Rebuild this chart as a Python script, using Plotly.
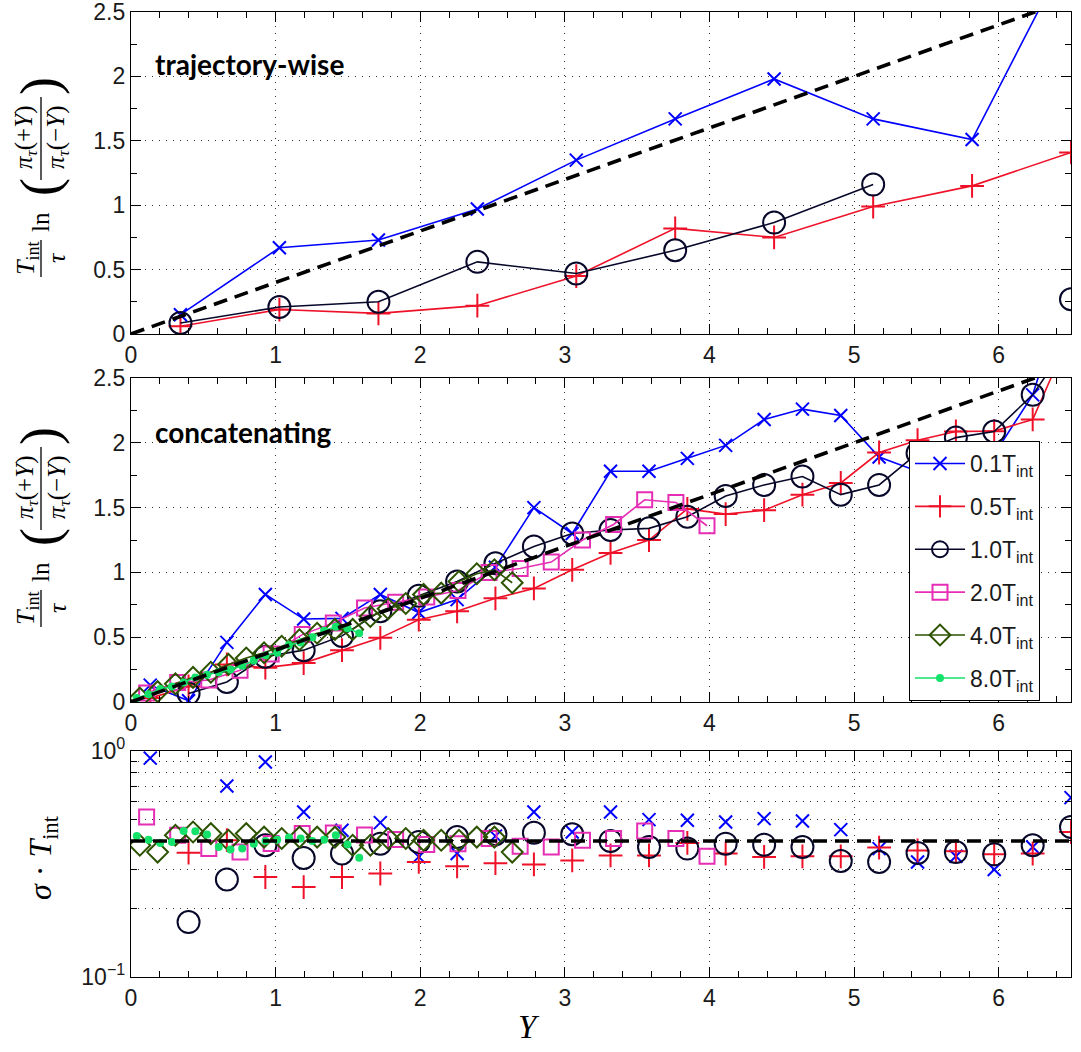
import plotly.graph_objects as go

# ---------------- data ----------------
series_names = ["0.1T<sub>int</sub>", "0.5T<sub>int</sub>", "1.0T<sub>int</sub>",
                "2.0T<sub>int</sub>", "4.0T<sub>int</sub>", "8.0T<sub>int</sub>"]

# top panel: trajectory-wise
x_top = [0.342, 1.026, 1.711, 2.395, 3.079, 3.763, 4.447, 5.132, 5.816, 6.500]
top_blue = [0.15, 0.67, 0.73, 0.97, 1.35, 1.67, 1.98, 1.67, 1.51, 3.0]
top_red = [0.06, 0.19, 0.16, 0.22, 0.45, 0.82, 0.75, 0.99, 1.15, 1.41]
top_black = [0.085, 0.21, 0.25, 0.56, 0.47, 0.65, 0.865, 1.16, None, 0.27]

# middle / bottom panels: concatenating
x_25 = [0.133, 0.398, 0.663, 0.929, 1.194, 1.459, 1.724, 1.990, 2.255, 2.520,
        2.786, 3.051, 3.316, 3.582, 3.847, 4.112, 4.378, 4.643, 4.908, 5.173,
        5.439, 5.704, 5.969, 6.235, 6.500]
x_19 = [0.108, 0.323, 0.538, 0.754, 0.969, 1.184, 1.399, 1.615, 1.830, 2.045,
        2.261, 2.476, 2.691, 2.906, 3.122, 3.337, 3.552, 3.768, 3.983]
x_22 = [0.061, 0.184, 0.307, 0.429, 0.552, 0.674, 0.797, 0.920, 1.042, 1.165,
        1.287, 1.410, 1.533, 1.655, 1.778, 1.900, 2.023, 2.145, 2.268, 2.391,
        2.513, 2.636]
x_20 = [0.040, 0.121, 0.202, 0.283, 0.364, 0.445, 0.526, 0.607, 0.688, 0.769,
        0.849, 0.930, 1.011, 1.092, 1.173, 1.254, 1.335, 1.416, 1.497, 1.578]

mid_blue = [0.13, 0.01, 0.46, 0.83, 0.64, 0.645, 0.83, 0.69, 0.79, 1.04,
            1.50, 1.30, 1.78, 1.78, 1.88, 1.98, 2.18, 2.26, 2.21, 1.89,
            1.78, 1.75, 1.91, 2.37, 3.3]
mid_red = [0.03, 0.12, 0.29, 0.265, 0.30, 0.40, 0.495, 0.635, 0.70, 0.80,
           0.876, 1.02, 1.15, 1.25, 1.49, 1.45, 1.48, 1.60, 1.69, 1.925,
           2.02, 2.087, 2.09, 2.18, 2.85]
mid_black = [None, 0.065, 0.155, 0.35, 0.40, 0.51, 0.70, 0.82, 0.93, 1.07,
             1.20, 1.30, 1.327, 1.34, 1.43, 1.59, 1.675, 1.74, 1.60, 1.675,
             1.92, 2.04, 2.087, 2.37, 2.8]
mid_pink = [0.07, 0.15, 0.17, 0.245, 0.37, 0.52, 0.61, 0.725, 0.77, 0.81,
            0.86, 1.00, 1.03, 1.08, 1.25, 1.37, 1.56, 1.54, 1.36]
mid_diamond = [0.03, 0.08, 0.14, 0.19, 0.23, 0.29, 0.34, 0.38, 0.43, 0.48,
               0.53, 0.56, 0.56, 0.66, 0.72, 0.76, 0.83, 0.84, 0.93, 0.99,
               1.02, 0.92]
mid_green = [0.03, 0.06, 0.10, 0.12, 0.15, 0.19, 0.21, 0.23, 0.25, 0.28,
             0.32, 0.36, 0.38, 0.44, 0.46, 0.50, 0.55, 0.58, 0.57, 0.53]

bot_blue = [0.93, None, 0.70, 0.894, 0.537, 0.446, 0.482, 0.34, 0.352, 0.42,
            0.537, 0.438, 0.537, 0.497, 0.494, 0.485, 0.502, 0.49, 0.449, 0.37,
            0.323, 0.342, 0.299, 0.376, 0.622]
bot_red = [None, 0.355, 0.403, 0.277, 0.25, 0.277, 0.287, 0.323, 0.309, 0.319,
           0.315, 0.328, 0.345, 0.345, 0.392, 0.352, 0.34, 0.342, 0.342, 0.374,
           0.363, 0.36, 0.349, 0.352, 0.438]
bot_black = [None, 0.175, 0.27, 0.383, 0.336, 0.352, 0.389, 0.396, 0.416, 0.428,
             0.435, 0.428, 0.40, 0.376, 0.37, 0.389, 0.385, 0.376, 0.326, 0.323,
             0.354, 0.357, 0.349, 0.383, 0.461]
bot_pink = [0.51, 0.424, 0.37, 0.357, 0.39, 0.431, 0.434, 0.425, 0.406, 0.386,
            0.389, 0.41, 0.379, 0.376, 0.403, 0.41, 0.443, 0.41, 0.342]
bot_diamond = [0.383, 0.357, 0.424, 0.438, 0.431, 0.403, 0.431, 0.416, 0.41, 0.416,
               0.416, 0.416, 0.383, 0.383, 0.41, 0.41, 0.403, 0.403, 0.403, 0.416,
               0.416, 0.357]
bot_green = [0.421, 0.405, 0.392, 0.396, 0.443, 0.441, 0.427, 0.376, 0.367, 0.37,
             0.389, 0.40, 0.405, 0.414, 0.41, 0.40, 0.405, 0.424, 0.386, 0.337]

# reference (dashed) prediction: slope / constant sigma*T_int
ref_sigma = 0.4
ref_x = [0.0, 6.5]

# ---------------- styles ----------------
BLUE = "#0000ff"
RED = "#ee1128"
NAVY = "#07072a"
PINK = "#e62eb4"
DGREEN = "#2c5200"
LGREEN = "#14e26a"

styles = [
    dict(color=BLUE, symbol="x-thin-open", size=13),
    dict(color=RED, symbol="cross-thin-open", size=17),
    dict(color=NAVY, symbol="circle-open", size=22),
    dict(color=PINK, symbol="square-open", size=15),
    dict(color=DGREEN, symbol="diamond-open", size=16),
    dict(color=LGREEN, symbol="circle", size=6),
]

fig = go.Figure()


def add_series(x, y, i, xa, ya, mode, legend=False):
    st = styles[i]
    fig.add_trace(go.Scatter(
        x=x, y=y, mode=mode, name=series_names[i], xaxis=xa, yaxis=ya,
        showlegend=legend, legendgroup=str(i), connectgaps=False, cliponaxis=True,
        line=dict(color=st["color"], width=1.6),
        marker=dict(symbol=st["symbol"], size=st["size"], color=st["color"],
                    line=dict(color=st["color"], width=2)),
    ))


# top panel
add_series(x_top, top_blue, 0, "x", "y", "lines+markers")
add_series(x_top, top_red, 1, "x", "y", "lines+markers")
add_series(x_top, top_black, 2, "x", "y", "lines+markers")

# middle panel
mid = [(x_25, mid_blue), (x_25, mid_red), (x_25, mid_black),
       (x_19, mid_pink), (x_22, mid_diamond), (x_20, mid_green)]
for i, (xx, yy) in enumerate(mid):
    add_series(xx, yy, i, "x2", "y2", "lines+markers", legend=True)

# bottom panel
bot = [(x_25, bot_blue), (x_25, bot_red), (x_25, bot_black),
       (x_19, bot_pink), (x_22, bot_diamond), (x_20, bot_green)]
for i, (xx, yy) in enumerate(bot):
    add_series(xx, yy, i, "x3", "y3", "markers")

# dashed reference lines
dash_line = dict(color="black", width=3.6, dash="14px,8px")
for xa, ya in [("x", "y"), ("x2", "y2")]:
    fig.add_trace(go.Scatter(x=ref_x, y=[ref_sigma * v for v in ref_x], mode="lines",
                             xaxis=xa, yaxis=ya, showlegend=False, line=dash_line))
fig.add_trace(go.Scatter(x=ref_x, y=[ref_sigma for _ in ref_x], mode="lines",
                         xaxis="x3", yaxis="y3", showlegend=False, line=dash_line))

# ---------------- layout ----------------
W, H = 1081, 1052
ML, MR, MT, MB = 131, 10, 12, 75
PW, PH = W - ML - MR, H - MT - MB


def pxx(px):
    return (px - ML) / PW


def pxy(py):
    return (H - MB - py) / PH


TICKFONT = dict(family="Liberation Sans", size=23, color="#1a1a1a")
GRID = dict(showgrid=True, gridcolor="#333333", gridwidth=1, griddash="1px,6px")
common = dict(showline=True, linecolor="black", linewidth=1.3, mirror="ticks",
              ticks="inside", ticklen=10, tickwidth=1.3, tickcolor="black",
              zeroline=False, tickfont=TICKFONT, automargin=False,
              ticklabeloverflow="allow", **GRID)

xcommon = dict(common, range=[0, 6.5], dtick=1, tick0=0,
               minor=dict(dtick=0.2, tick0=0, ticks="inside", ticklen=6,
                          tickwidth=1, tickcolor="black", showgrid=False))
ylin = dict(common, range=[0, 2.5], dtick=0.5, tick0=0,
            minor=dict(dtick=0.25, tick0=0, ticks="inside", ticklen=6,
                       tickwidth=1, tickcolor="black", showgrid=False))

dom_top = [pxy(334), pxy(12)]
dom_mid = [pxy(702), pxy(378)]
dom_bot = [pxy(977), pxy(751)]

fig.update_layout(
    width=W, height=H,
    margin=dict(l=ML, r=MR, t=MT, b=MB, autoexpand=False),
    paper_bgcolor="white", plot_bgcolor="white",
    xaxis=dict(xcommon, anchor="y", domain=[0, 1]),
    yaxis=dict(ylin, anchor="x", domain=dom_top),
    xaxis2=dict(xcommon, anchor="y2", domain=[0, 1]),
    yaxis2=dict(ylin, anchor="x2", domain=dom_mid),
    xaxis3=dict(xcommon, anchor="y3", domain=[0, 1]),
    yaxis3=dict(common, anchor="x3", domain=dom_bot, type="log", range=[-1, 0],
                tickmode="array", tickvals=[0.1, 1],
                ticktext=["10<sup>−1</sup>", "10<sup>0</sup>"],
                minor=dict(tickmode="array",
                           tickvals=[0.2, 0.3, 0.4, 0.5, 0.6, 0.7, 0.8, 0.9],
                           ticks="inside", ticklen=6, tickwidth=1, tickcolor="black",
                           showgrid=True, gridcolor="#333333", gridwidth=1,
                           griddash="1px,6px")),
    legend=dict(x=pxx(909), y=pxy(441), xanchor="left", yanchor="top",
                bgcolor="white", bordercolor="black", borderwidth=1,
                font=dict(family="Liberation Sans", size=23, color="#1a1a1a"),
                traceorder="grouped", tracegroupgap=10, itemwidth=50),
)

SERIF = "Liberation Serif"
ann = []
shapes = []


def ylabel_fraction(off):
    # off: vertical pixel offset of the panel label
    items = [
        ("<i>T</i><sub>int</sub>", 27, 258, 26),
        ("<i>τ</i>", 57, 258, 26),
        ("ln", 40, 222, 25),
        ("(", 40, 187, 54),
        ("<i>π</i><sub><i>τ</i></sub>(+<i>Y</i>)", 26, 138, 25),
        ("<i>π</i><sub><i>τ</i></sub>(−<i>Y</i>)", 58, 138, 25),
        (")", 40, 86, 54),
    ]
    for txt, px, py, sz in items:
        ann.append(dict(text=txt, x=pxx(px), y=pxy(py + off), xref="paper",
                        yref="paper", showarrow=False, textangle=-90,
                        xanchor="center", yanchor="middle",
                        font=dict(family=SERIF, size=sz, color="black")))
    for y0, y1 in [(240, 277), (97, 180)]:
        shapes.append(dict(type="line", xref="paper", yref="paper",
                           x0=pxx(41), x1=pxx(41), y0=pxy(y0 + off), y1=pxy(y1 + off),
                           line=dict(color="black", width=1.3)))


ylabel_fraction(0)
ylabel_fraction(350)

ann.append(dict(text="<i>σ</i> · <i>T</i><sub>int</sub>", x=pxx(42), y=pxy(858),
                xref="paper", yref="paper", showarrow=False, textangle=-90,
                xanchor="center", yanchor="middle",
                font=dict(family=SERIF, size=32, color="black")))
ann.append(dict(text="<i>Y</i>", x=pxx(529), y=pxy(1027), xref="paper", yref="paper",
                showarrow=False, xanchor="center", yanchor="middle",
                font=dict(family=SERIF, size=33, color="black")))
for txt, py in [("trajectory-wise", 64), ("concatenating", 432)]:
    ann.append(dict(text=txt, x=pxx(153), y=pxy(py), xref="paper",
                    yref="paper", showarrow=False, xanchor="left", yanchor="middle",
                    font=dict(family="Lato", size=28, color="black", weight=700)))

fig.update_layout(annotations=ann, shapes=shapes)

fig.write_html("out.html", config={"displayModeBar": False},
               post_script="document.body.style.margin='0';document.body.style.padding='0';")
